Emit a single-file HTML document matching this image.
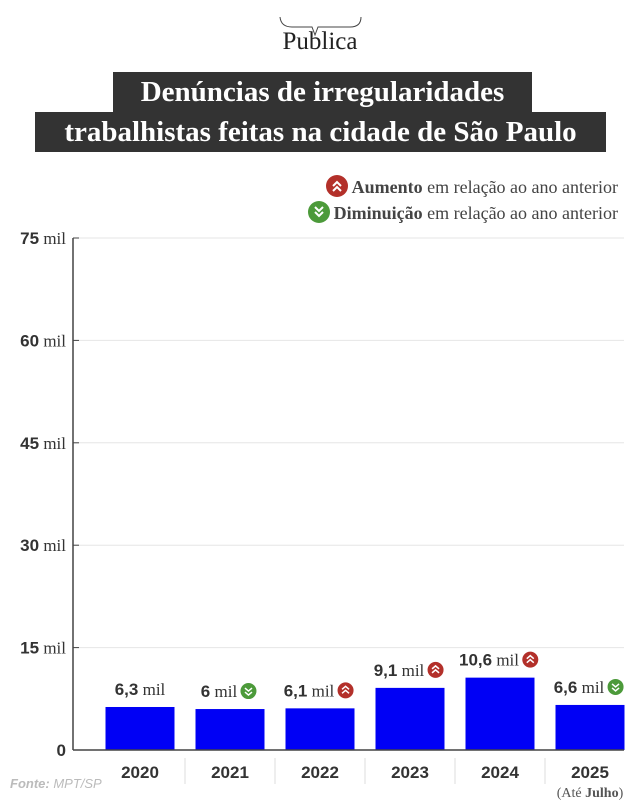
<!DOCTYPE html>
<html><head><meta charset="utf-8"><style>
body{margin:0;width:640px;height:801px;background:#fff;overflow:hidden;font-family:"Liberation Serif",serif;position:relative}
.t{position:absolute;background:#333;color:#fff;font-weight:bold;font-size:29px;line-height:40px;white-space:nowrap;text-align:center}
.leg{position:absolute;right:22px;font-size:18px;color:#444;white-space:nowrap}
.ic{vertical-align:-4px;margin-right:4px}
</style></head><body>
<svg style="position:absolute;left:0;top:0" width="640" height="40"><path d="M280 17 Q281 27 292 27 L312 27 L315 35 L318 27 L350 27 Q361 27 361 17" fill="none" stroke="#444" stroke-width="1"/></svg>
<div style="position:absolute;left:0;width:640px;top:28px;text-align:center;font-size:25px;color:#222">Publica</div>
<div class="t" style="left:113px;top:72px;width:419px">Denúncias de irregularidades</div>
<div class="t" style="left:35px;top:112px;width:571px">trabalhistas feitas na cidade de São Paulo</div>
<div class="leg" style="top:175px"><svg class="ic" width="22" height="22"><circle cx="11" cy="11" r="11" fill="#b3302a"/><path d="M7 11 L11 7 L15 11 M7 16 L11 12 L15 16" fill="none" stroke="#fff" stroke-width="2"/></svg><b>Aumento</b> em relação ao ano anterior</div>
<div class="leg" style="top:201px"><svg class="ic" width="22" height="22"><circle cx="11" cy="11" r="11" fill="#4c9a3a"/><path d="M7 6 L11 10 L15 6 M7 11 L11 15 L15 11" fill="none" stroke="#fff" stroke-width="2"/></svg><b>Diminuição</b> em relação ao ano anterior</div>
<svg id="c" style="position:absolute;left:0;top:0" width="640" height="801"></svg>
<div style="position:absolute;left:10px;top:776px;font-size:13px;color:#bbb;font-style:italic;font-family:'Liberation Sans',sans-serif"><b>Fonte:</b> MPT/SP</div>
<script>
const years=["2020","2021","2022","2023","2024","2025"];
const values=[6.3,6.0,6.1,9.1,10.6,6.6];
const valueLabels=["6,3","6","6,1","9,1","10,6","6,6"];
const trends=["none","down","up","up","up","down"];
const ticks=[0,15,30,45,60,75];
const NS="http://www.w3.org/2000/svg",svg=document.getElementById('c');
const y0=750,ppu=512/75,x0=95,band=90,bw=69;
const y=v=>y0-v*ppu;
function mk(t,a,txt){const e=document.createElementNS(NS,t);for(const k in a)e.setAttribute(k,a[k]);if(txt!=null)e.innerHTML=txt;svg.appendChild(e);return e;}
ticks.forEach(t=>{
 if(t>0){const g=mk('line',{x1:73,x2:624,y1:y(t),y2:y(t),stroke:'#e6e6e6'});
 
 }
 const l=mk('text',{x:66,y:y(t)+6,'text-anchor':'end','font-size':17,fill:'#333','font-family':'Liberation Sans, sans-serif'},'<tspan font-weight="bold">'+t+'</tspan>'+(t?'<tspan font-family="Liberation Serif, serif"> mil</tspan>':''));
 
 
 const tk=mk('line',{x1:73,x2:79,y1:y(t),y2:y(t),stroke:'#444'});
 
 
});
const ax=mk('line',{x1:73,x2:73,y1:y(75),y2:y0,stroke:'#444','stroke-width':1.5});


years.forEach((yr,i)=>{
 const cx=x0+band*i+band/2;
 const r=mk('rect',{x:cx-bw/2,y:y(values[i]),width:bw,height:values[i]*ppu,fill:'#0000f5'});
 
 
 const off=trends[i]==='none'?0:-11;
 const v=mk('text',{x:cx+off,y:y(values[i])-12,'text-anchor':'middle','font-size':17,fill:'#333','font-family':'Liberation Sans, sans-serif'},'<tspan font-weight="bold">'+valueLabels[i]+'</tspan><tspan font-family="Liberation Serif, serif"> mil</tspan>');
 
 
 if(trends[i]!=='none'){
  const bb=v.getBBox();const ix=bb.x+bb.width+11,iy=y(values[i])-18;
  const c=mk('circle',{cx:ix,cy:iy,r:8,fill:trends[i]==='up'?'#b3302a':'#4c9a3a'});
  
  
  const d=trends[i]==='up'?-1:1;
  const p=mk('path',{d:`M${ix-3.5} ${iy-3*d} L${ix} ${iy} L${ix+3.5} ${iy-3*d} M${ix-3.5} ${iy+1*d} L${ix} ${iy+4*d} L${ix+3.5} ${iy+1*d}`,fill:'none',stroke:'#fff','stroke-width':1.5});
  
  
 }
 const xl=mk('text',{x:cx,y:778,'text-anchor':'middle','font-size':17,'font-weight':'bold',fill:'#333','font-family':'Liberation Sans, sans-serif'},yr);
 
 
 if(i>0){const s=mk('line',{x1:x0+band*i,x2:x0+band*i,y1:758,y2:784,stroke:'#ddd'});
 
 }
});
const n=mk('text',{x:x0+band*5.5,y:797,'text-anchor':'middle','font-size':14,fill:'#555'},'(Até <tspan font-weight="bold">Julho</tspan>)');


const base=mk('line',{x1:73,x2:624,y1:y0,y2:y0,stroke:'#444','stroke-width':1.5});


</script>
</body></html>
